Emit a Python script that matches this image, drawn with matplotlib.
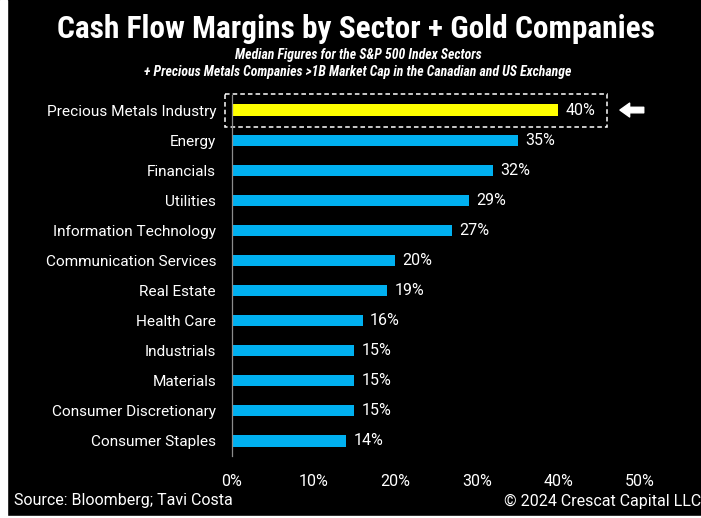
import matplotlib
matplotlib.use("Agg")
import matplotlib.pyplot as plt
from matplotlib.patches import Rectangle

sectors = [
    "Precious Metals Industry", "Energy", "Financials", "Utilities",
    "Information Technology", "Communication Services", "Real Estate",
    "Health Care", "Industrials", "Materials", "Consumer Discretionary",
    "Consumer Staples",
]
margins = [40, 35, 32, 29, 27, 20, 19, 16, 15, 15, 15, 14]
x_ticks = [0, 10, 20, 30, 40, 50]

BG = "black"
BLUE = "#00B0F0"
GOLD = "#FFFF00"
W, H = 701, 518

plt.rcParams["font.family"] = ["Roboto", "DejaVu Sans"]
NARROW = ["Roboto Condensed", "Roboto", "DejaVu Sans"]

fig = plt.figure(figsize=(W / 100, H / 100), dpi=100, facecolor=BG)
ax = fig.add_axes([232 / W, 1 - 456 / H, (640 - 232) / W, (456 - 95) / H])
ax.set_facecolor(BG)

colors = [GOLD] + [BLUE] * (len(sectors) - 1)
ypos = list(range(len(sectors)))
ax.barh(ypos, margins, height=0.37, color=colors)
for y, v in zip(ypos, margins):
    ax.text(v + 0.9, y, f"{v}%", va="center", ha="left", color="white", fontsize=11.5)

ax.set_xlim(0, 50)
ax.set_ylim(len(sectors) - 0.5, -0.5)
ax.set_yticks(ypos)
ax.set_yticklabels(sectors, color="white", fontsize=11.1)
ax.set_xticks(x_ticks)
ax.set_xticklabels([f"{t}%" for t in x_ticks], color="white", fontsize=11.5)
ax.tick_params(axis="both", length=0)
ax.tick_params(axis="y", pad=11.5)
ax.tick_params(axis="x", pad=13)
for s in ("top", "right", "bottom"):
    ax.spines[s].set_visible(False)
ax.spines["left"].set_color("#8c8c8c")
ax.spines["left"].set_linewidth(0.9)

# highlight box + arrow for the gold row
ax.add_patch(Rectangle((-0.85, -0.53), 46.85, 1.1, fill=False, ec="white",
                       ls=(0, (3, 2)), lw=1.1, clip_on=False))
ax.annotate("", xy=(47.2, 0), xytext=(50.8, 0),
            arrowprops=dict(arrowstyle="simple,head_length=0.7,head_width=1.0,tail_width=0.4",
                            fc="white", ec="white"),
            annotation_clip=False)

fig.text(356 / W, 1 - 38 / H, "Cash Flow Margins by Sector + Gold Companies",
         ha="center", va="baseline", color="white", fontsize=22.6, fontweight="bold",
         fontstretch="condensed", family=NARROW)
fig.text(358 / W, 1 - 55 / H, "Median Figures for the S&P 500 Index Sectors",
         ha="center", va="center", color="white", fontsize=9.9, fontweight="bold",
         style="italic", fontstretch="condensed", family=NARROW)
fig.text(358 / W, 1 - 72 / H,
         "+ Precious Metals Companies >1B Market Cap in the Canadian and US Exchange",
         ha="center", va="center", color="white", fontsize=9.9, fontweight="bold",
         style="italic", fontstretch="condensed", family=NARROW)

fig.text(14 / W, 1 - 501 / H, "Source: Bloomberg; Tavi Costa", ha="left", va="center",
         color="white", fontsize=11.5)
fig.text(1.0, 1 - 501 / H, "\u00a9 2024 Crescat Capital LLC", ha="right", va="center",
         color="white", fontsize=11.5)

# thin white margins along the left and bottom edges
fig.patches.append(Rectangle((0, 0), 7 / W, 1, transform=fig.transFigure,
                             color="white", zorder=10))
fig.patches.append(Rectangle((0, 0), 1, 2 / H, transform=fig.transFigure,
                             color="white", zorder=10))

fig.savefig("out.png", dpi=100, facecolor=BG)
